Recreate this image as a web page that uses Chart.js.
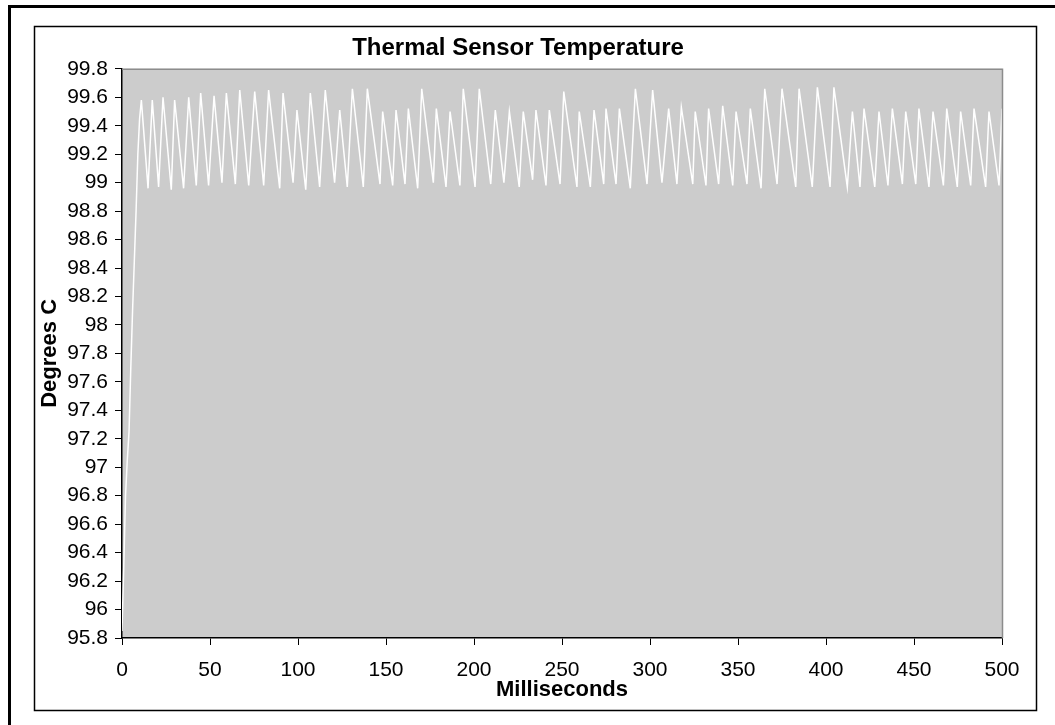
<!DOCTYPE html>
<html>
<head>
<meta charset="utf-8">
<title>Thermal Sensor Temperature</title>
<script src="https://cdn.jsdelivr.net/npm/chart.js@4/dist/chart.umd.min.js"></script>
<style>
	html, body { margin: 0; padding: 0; background: #fff; }
	canvas { display: block; }
</style>
</head>
<body>
<canvas id="tempChart" width="1055" height="725"></canvas>
<script>
// readings taken off the plot (troughs and peaks of each cycle)
let timeMs = [0, 1, 2, 3, 4, 5, 6, 7, 8, 9, 10, 11.0,
	14.8, 17.2, 20.8, 23.3, 28.0, 29.9, 35.0, 37.9, 42.2, 44.7, 49.2, 52.3, 56.8, 59.3,
	64.4, 66.9, 72.0, 75.4, 80.5, 83.3, 89.6, 91.5, 97.2, 99.4, 104.4, 107.0, 112.3, 115.5,
	120.8, 123.7, 128.0, 130.9, 137.1, 139.4, 146.6, 148.1, 153.8, 155.7, 160.8, 162.7,
	168.0, 170.3, 176.9, 178.6, 184.1, 186.4, 192.0, 193.9, 200.6, 203.0, 209.5, 212.1,
	217.0, 220.1, 225.7, 228.0, 233.3, 235.2, 240.9, 242.8, 248.9, 251.0, 258.5, 259.8,
	266.1, 268.2, 273.7, 275.0, 280.7, 282.6, 288.8, 291.7, 298.3, 301.5, 306.8, 310.6,
	315.3, 317.8, 324.3, 325.7, 331.8, 333.3, 339.0, 341.3, 347.0, 348.9, 355.1, 357.0,
	363.1, 365.2, 372.2, 375.0, 382.8, 384.7, 392.2, 395.1, 402.3, 404.5, 412.1, 415.0,
	419.3, 421.6, 427.7, 430.1, 435.2, 437.7, 443.4, 445.3, 451.0, 452.8, 458.5, 460.8,
	466.7, 468.6, 474.6, 476.5, 482.2, 484.1, 490.7, 492.6, 498.3, 500];

let tempC = [95.85, 96.3, 96.8, 97.05, 97.25, 97.7, 98.1, 98.45, 98.8, 99.2, 99.45, 99.58,
	98.96, 99.58, 98.97, 99.60, 98.95, 99.58, 98.96, 99.60, 98.98, 99.63, 98.98, 99.61, 99.00, 99.63,
	98.99, 99.65, 98.98, 99.64, 98.98, 99.65, 98.96, 99.63, 99.00, 99.51, 98.95, 99.63, 98.97, 99.65,
	99.00, 99.51, 98.97, 99.66, 98.97, 99.66, 98.99, 99.50, 98.98, 99.51, 98.99, 99.52,
	98.96, 99.66, 99.00, 99.52, 98.97, 99.50, 98.98, 99.66, 98.97, 99.66, 98.99, 99.51,
	99.00, 99.50, 98.97, 99.50, 99.02, 99.51, 98.98, 99.51, 98.99, 99.64, 98.97, 99.50,
	98.97, 99.51, 98.99, 99.52, 98.99, 99.52, 98.96, 99.66, 98.99, 99.65, 99.00, 99.52,
	98.99, 99.53, 98.99, 99.50, 98.98, 99.52, 98.99, 99.54, 98.98, 99.50, 98.99, 99.52,
	98.96, 99.66, 98.99, 99.66, 98.97, 99.66, 98.97, 99.67, 98.97, 99.67, 98.97, 99.50,
	98.97, 99.52, 98.97, 99.50, 98.98, 99.52, 98.99, 99.50, 98.99, 99.52, 98.97, 99.50,
	98.98, 99.52, 98.97, 99.50, 98.98, 99.52, 98.97, 99.50, 98.98, 99.52];

let xTickValues = [0, 50, 100, 150, 200, 250, 300, 350, 400, 450, 500];
let yTickValues = [95.8, 96, 96.2, 96.4, 96.6, 96.8, 97, 97.2, 97.4, 97.6, 97.8,
	98, 98.2, 98.4, 98.6, 98.8, 99, 99.2, 99.4, 99.6, 99.8];
let yTickLabels = ["95.8", "96", "96.2", "96.4", "96.6", "96.8", "97", "97.2", "97.4", "97.6", "97.8",
	"98", "98.2", "98.4", "98.6", "98.8", "99", "99.2", "99.4", "99.6", "99.8"];

let plotGrey = "#cccccc";
let edgeGrey = "#8c8c8c";
let fontFam = "'Liberation Sans', Arial, sans-serif";

let points = timeMs.map(function (t, i) {
	return { x: t, y: tempC[i] };
});

// page frame, inner box and the grey plot background
let framePlugin = {
	id: "frame",
	beforeDraw: function (chart) {
		let c = chart.ctx;
		let a = chart.chartArea;
		c.save();
		c.fillStyle = "#fff";
		c.fillRect(0, 0, chart.width, chart.height);
		c.fillStyle = "#000";
		c.fillRect(8, 5, 3, chart.height - 5);
		c.fillRect(8, 5, chart.width - 8, 3);
		c.strokeStyle = "#000";
		c.lineWidth = 1.5;
		c.strokeRect(34.5, 26.5, 1002, 684);
		c.fillStyle = plotGrey;
		c.fillRect(a.left, a.top, a.right - a.left, a.bottom - a.top);
		c.restore();
	},
	afterDraw: function (chart) {
		let c = chart.ctx;
		let a = chart.chartArea;
		c.save();
		c.strokeStyle = edgeGrey;
		c.lineWidth = 1.5;
		c.beginPath();
		c.moveTo(a.left, a.top + 0.5);
		c.lineTo(a.right + 0.5, a.top + 0.5);
		c.lineTo(a.right + 0.5, a.bottom);
		c.stroke();
		c.restore();
	}
};

let chartTemp = new Chart(document.getElementById("tempChart"), {
	type: "line",
	data: {
		datasets: [{
			data: points,
			borderColor: "#ffffff",
			borderWidth: 1.5,
			pointRadius: 0,
			tension: 0,
			fill: false
		}]
	},
	options: {
		responsive: false,
		animation: false,
		layout: {
			padding: { left: 34, top: 26, right: 53, bottom: 14 }
		},
		plugins: {
			legend: { display: false },
			tooltip: { enabled: false },
			title: {
				display: true,
				text: "Thermal Sensor Temperature",
				color: "#000",
				font: { family: fontFam, size: 24, weight: "bold" },
				padding: { top: 8, bottom: 6 }
			}
		},
		scales: {
			x: {
				type: "linear",
				min: 0,
				max: 500,
				afterBuildTicks: function (s) {
					s.ticks = xTickValues.map(function (v) { return { value: v }; });
				},
				afterFit: function (s) { s.height = 73; },
				ticks: {
					color: "#000",
					font: { family: fontFam, size: 21 },
					padding: 13,
					maxRotation: 0,
					autoSkip: false
				},
				grid: { drawOnChartArea: false, tickLength: 7, color: "#000" },
				border: { color: "#000", width: 1.5 },
				title: {
					display: true,
					text: "Milliseconds",
					color: "#000",
					font: { family: fontFam, size: 22, weight: "bold" },
					padding: { top: 0, bottom: 8 }
				}
			},
			y: {
				type: "linear",
				min: 95.8,
				max: 99.8,
				afterBuildTicks: function (s) {
					s.ticks = yTickValues.map(function (v) { return { value: v }; });
				},
				afterFit: function (s) { s.width = 88; },
				ticks: {
					color: "#000",
					font: { family: fontFam, size: 21 },
					padding: 7,
					autoSkip: false,
					callback: function (v, i) { return yTickLabels[i]; }
				},
				grid: { drawOnChartArea: false, tickLength: 7, color: "#000" },
				border: { color: "#000", width: 1.5 },
				title: {
					display: true,
					text: "Degrees C",
					color: "#000",
					font: { family: fontFam, size: 22, weight: "bold" },
					padding: { top: 3, bottom: 0 }
				}
			}
		}
	},
	plugins: [framePlugin]
});
</script>
</body>
</html>
